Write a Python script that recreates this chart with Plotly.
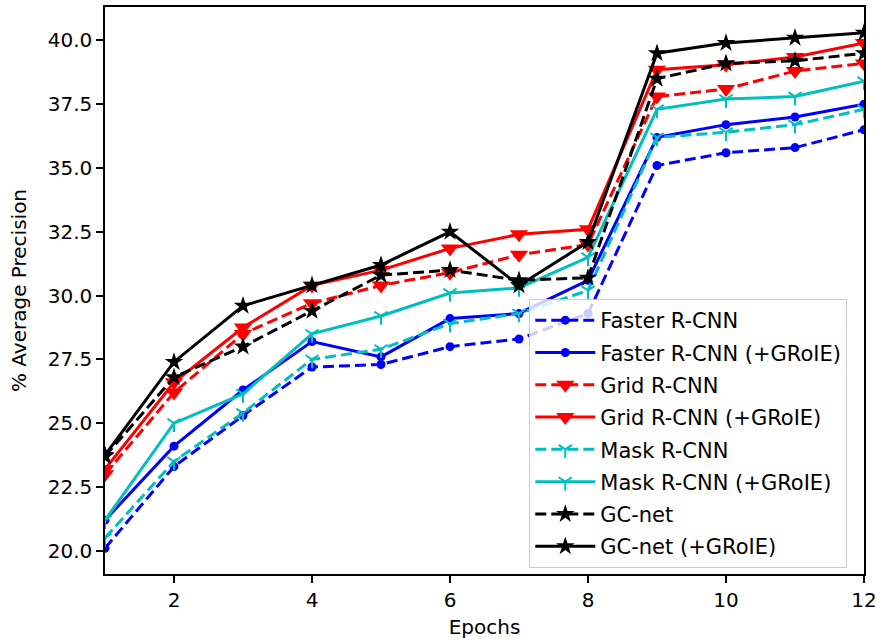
import plotly.graph_objects as go

epochs = [1, 2, 3, 4, 5, 6, 7, 8, 9, 10, 11, 12]

faster = [20.1, 23.3, 25.3, 27.2, 27.3, 28.0, 28.3, 29.3, 35.1, 35.6, 35.8, 36.5]
faster_groie = [21.2, 24.1, 26.3, 28.2, 27.6, 29.1, 29.3, 30.6, 36.2, 36.7, 37.0, 37.5]
grid = [23.0, 26.2, 28.5, 29.7, 30.4, 30.9, 31.6, 32.0, 37.8, 38.1, 38.8, 39.1]
grid_groie = [23.2, 26.6, 28.75, 30.4, 31.0, 31.85, 32.4, 32.6, 38.85, 39.05, 39.35, 39.9]
mask = [20.5, 23.5, 25.4, 27.5, 27.9, 28.9, 29.3, 30.2, 36.2, 36.4, 36.7, 37.3]
mask_groie = [21.2, 25.0, 26.15, 28.5, 29.2, 30.1, 30.3, 31.5, 37.3, 37.7, 37.8, 38.4]
gcnet = [23.7, 26.8, 28.0, 29.4, 30.8, 31.0, 30.6, 30.7, 38.5, 39.1, 39.2, 39.5]
gcnet_groie = [23.75, 27.4, 29.6, 30.4, 31.2, 32.5, 30.4, 32.1, 39.5, 39.9, 40.1, 40.3]

series = [
    ("Faster R-CNN", faster, "#0000ff", "11px,5px", "circle", 9),
    ("Faster R-CNN (+GRoIE)", faster_groie, "#0000ff", "solid", "circle", 9),
    ("Grid R-CNN", grid, "#ff0000", "11px,5px", "triangle-down", 16),
    ("Grid R-CNN (+GRoIE)", grid_groie, "#ff0000", "solid", "triangle-down", 16),
    ("Mask R-CNN", mask, "#00bfbf", "11px,5px", "y-down", 11),
    ("Mask R-CNN (+GRoIE)", mask_groie, "#00bfbf", "solid", "y-down", 11),
    ("GC-net", gcnet, "#000000", "11px,5px", "star", 14),
    ("GC-net (+GRoIE)", gcnet_groie, "#000000", "solid", "star", 14),
]

FONT = "DejaVu Sans"

fig = go.Figure()
for i, (name, vals, color, dash, sym, size) in enumerate(series):
    marker = dict(symbol=sym, size=size, color=color)
    if sym == "y-down":
        marker["line"] = dict(color=color, width=2)
    else:
        marker["line"] = dict(width=0)
    fig.add_trace(go.Scatter(
        x=epochs, y=vals, name=name, mode="lines+markers",
        line=dict(color=color, width=3, dash=dash),
        marker=marker, legendgroup=f"g{i}",
    ))

fig.update_layout(
    width=882, height=644,
    margin=dict(l=105, r=14, t=5, b=70),
    paper_bgcolor="white", plot_bgcolor="white",
    font=dict(family=FONT, size=20, color="black"),
    showlegend=True,
    legend=dict(
        x=0.559, y=0.485, xanchor="left", yanchor="top",
        bgcolor="rgba(255,255,255,0.8)", bordercolor="#cccccc", borderwidth=1,
        font=dict(family=FONT, size=21, color="black"),
        tracegroupgap=2, itemwidth=60,
    ),
    xaxis=dict(
        range=[1, 12], tickmode="array", tickvals=[2, 4, 6, 8, 10, 12],
        showgrid=False, zeroline=False, showline=True, linecolor="black", linewidth=1.5,
        mirror=True, ticks="outside", ticklen=7, tickwidth=1.5, tickcolor="black",
        title=dict(text="Epochs", font=dict(family=FONT, size=20), standoff=9),
    ),
    yaxis=dict(
        range=[19.09, 41.31], tickmode="array",
        tickvals=[20.0, 22.5, 25.0, 27.5, 30.0, 32.5, 35.0, 37.5, 40.0],
        tickformat=".1f",
        showgrid=False, zeroline=False, showline=True, linecolor="black", linewidth=1.5,
        mirror=True, ticks="outside", ticklen=7, tickwidth=1.5, tickcolor="black",
        title=dict(text="% Average Precision", font=dict(family=FONT, size=20), standoff=16),
    ),
)

fig.write_html("out.html", config={"displayModeBar": False},
               post_script="document.body.style.margin='0px';")
